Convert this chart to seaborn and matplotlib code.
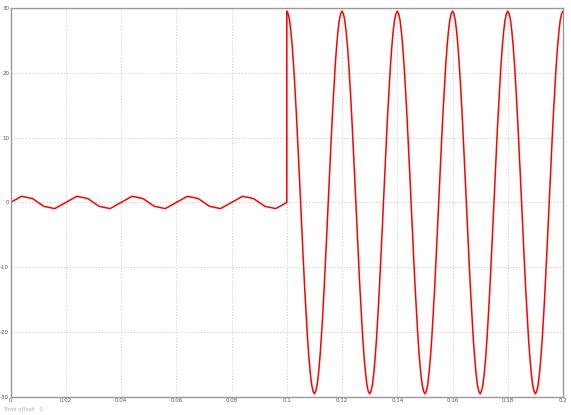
import numpy as np
import pandas as pd
import matplotlib
matplotlib.use("Agg")
import matplotlib.pyplot as plt
import seaborn as sns

# ------------------------------------------------------------
# Datos
# ------------------------------------------------------------
# Tramo 1 (0 - 0.1 s): onda pequeña, muestreo 0.004 s, un periodo
small_step = 0.004
small_period = [0.0, 0.95, 0.59, -0.59, -0.95]
small_cycles = 5

# Tramo 2 (0.1 - 0.2 s): onda grande, muestreo 0.0005 s, un periodo
big_step = 0.0005
big_period = [29.5, 29.1, 28.1, 26.3, 23.9, 20.9, 17.3, 13.4, 9.1, 4.6,
              0.0, -4.6, -9.1, -13.4, -17.3, -20.9, -23.9, -26.3, -28.1, -29.1,
              -29.5, -29.1, -28.1, -26.3, -23.9, -20.9, -17.3, -13.4, -9.1, -4.6,
              0.0, 4.6, 9.1, 13.4, 17.3, 20.9, 23.9, 26.3, 28.1, 29.1]
big_cycles = 5
t_switch = 0.1

x_ticks = [0, 0.02, 0.04, 0.06, 0.08, 0.1, 0.12, 0.14, 0.16, 0.18, 0.2]
x_labels = ["0", "0.02", "0.04", "0.06", "0.08", "0.1", "0.12", "0.14", "0.16", "0.18", "0.2"]
y_ticks = [-30, -20, -10, 0, 10, 20, 30]
y_labels = ["-30", "-20", "-10", "0", "10", "20", "30"]

# Construir la señal
small_vals = small_period * small_cycles + [0.0]
small_t = np.arange(len(small_vals)) * small_step
big_vals = big_period * big_cycles + [big_period[0]]
big_t = t_switch + np.arange(len(big_vals)) * big_step

df = pd.DataFrame({
    "t": np.concatenate([small_t, big_t]),
    "v": small_vals + big_vals,
})

# ------------------------------------------------------------
# Gráfico
# ------------------------------------------------------------
sns.set_style("white")
plt.rcParams['font.family'] = ['DejaVu Sans']

fig = plt.figure(figsize=(5.71, 4.15), dpi=100)
ax = fig.add_axes([0.0185, 0.0434, 0.9675, 0.9376])

sns.lineplot(data=df, x="t", y="v", estimator=None, sort=False,
             color="#ff0000", linewidth=1.1, ax=ax)

ax.set_xlim(0, 0.2)
ax.set_ylim(-30, 30)
ax.set_xticks(x_ticks)
ax.set_xticklabels(x_labels)
ax.set_yticks(y_ticks)
ax.set_yticklabels(y_labels)
ax.set_xlabel("")
ax.set_ylabel("")

ax.grid(True, color="#c8c8c8", linestyle=(0, (1, 2)), linewidth=0.7)
ax.tick_params(direction="in", length=3, width=0.8, colors="#888888",
               labelsize=4, labelcolor="#555555", pad=1)
for sp in ax.spines.values():
    sp.set_color("#999999")
    sp.set_linewidth(1.0)

fig.text(0.005, 0.01, "Time offset:  0", fontsize=4, color="#b0b0b0")

fig.savefig("out.png", dpi=100)
